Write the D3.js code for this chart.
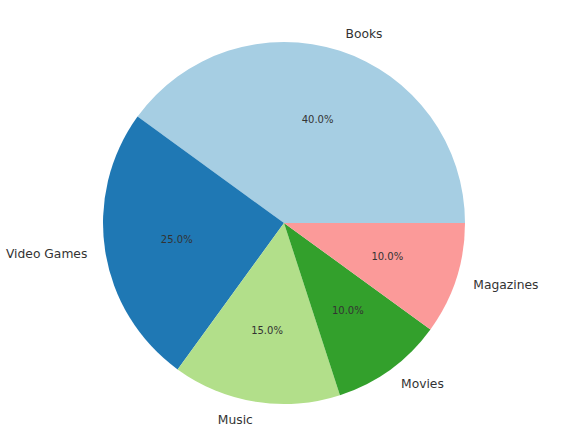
<!DOCTYPE html>
<html lang="en">
<head>
  <meta charset="UTF-8">
  <title>Pie</title>
  <script src="https://d3js.org/d3.v7.min.js"></script>
  <style>
    body { margin: 0; padding: 0; background: #fff; }
    svg text { font-family: "DejaVu Sans", sans-serif; fill: #333; }
  </style>
</head>
<body>
  <div id="chart"></div>
  <script>
    // Data
    const categories = ['Books', 'Video Games', 'Music', 'Movies', 'Magazines'];
    const values = [40, 25, 15, 10, 10];
    const colors = ['#a6cee3', '#1f78b4', '#b2df8a', '#33a02c', '#fb9a99'];

    const width = 564;
    const height = 448;
    const cx = 284, cy = 223, radius = 181;

    const svg = d3.select('#chart')
      .append('svg')
      .attr('width', width)
      .attr('height', height);

    const g = svg.append('g')
      .attr('transform', `translate(${cx},${cy})`);

    const items = categories.map((c, i) => ({ name: c, value: values[i], color: colors[i] }));

    // matplotlib style: start at 3 o'clock, go counter-clockwise
    const pie = d3.pie()
      .sort(null)
      .value(d => d.value)
      .startAngle(Math.PI / 2)
      .endAngle(Math.PI / 2 - 2 * Math.PI);

    const arc = d3.arc().innerRadius(0).outerRadius(radius);
    const arcs = pie(items);
    const total = d3.sum(values);

    g.selectAll('path')
      .data(arcs)
      .enter()
      .append('path')
      .attr('d', arc)
      .attr('fill', d => d.data.color);

    // point on circle at r for the middle of the slice
    function mid(d, r) {
      const a = (d.startAngle + d.endAngle) / 2;
      return [r * Math.sin(a), -r * Math.cos(a)];
    }

    // category labels
    g.selectAll('text.label')
      .data(arcs)
      .enter()
      .append('text')
      .attr('class', 'label')
      .attr('x', d => mid(d, radius * 1.1)[0])
      .attr('y', d => mid(d, radius * 1.1)[1])
      .attr('dy', '0.35em')
      .attr('text-anchor', d => mid(d, 1)[0] >= 0 ? 'start' : 'end')
      .style('font-size', '12.3px')
      .text(d => d.data.name);

    // percentages
    g.selectAll('text.pct')
      .data(arcs)
      .enter()
      .append('text')
      .attr('class', 'pct')
      .attr('x', d => mid(d, radius * 0.6)[0])
      .attr('y', d => mid(d, radius * 0.6)[1])
      .attr('dy', '0.35em')
      .attr('text-anchor', 'middle')
      .style('font-size', '10px')
      .text(d => (d.data.value / total * 100).toFixed(1) + '%');
  </script>
</body>
</html>
